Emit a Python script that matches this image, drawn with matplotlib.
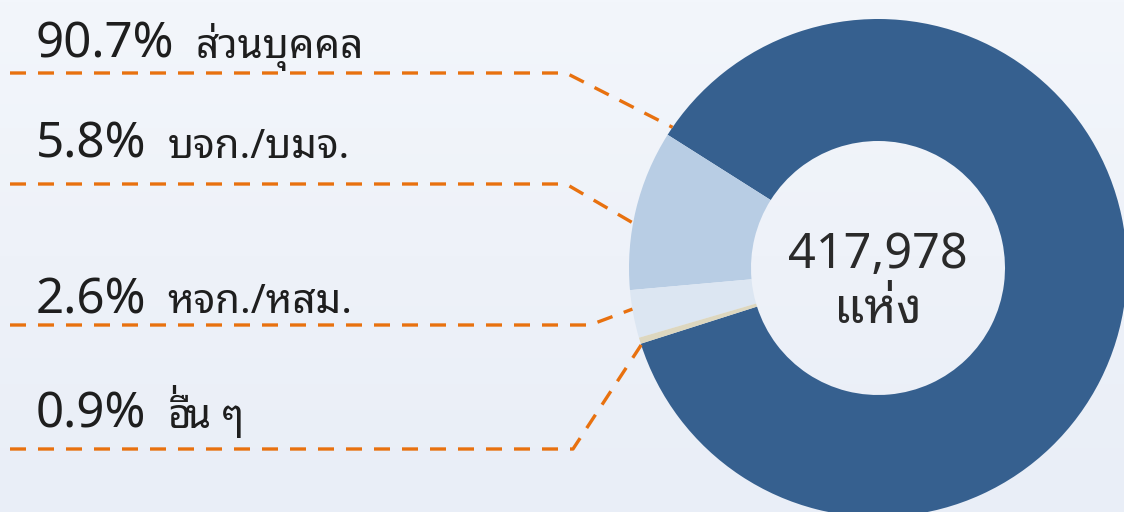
import numpy as np
import matplotlib
matplotlib.use("Agg")
import matplotlib.pyplot as plt
from matplotlib.colors import LinearSegmentedColormap

# ---- data ----
pct_labels = ["90.7%", "5.8%", "2.6%", "0.9%"]
names = ["ส่วนบุคคล", "บจก./บมจ.", "หจก./หสม.", "อื่น ๆ"]
# slice sizes as drawn in the picture
shares = [86.1, 10.4, 3.1, 0.4]
colors = ["#36608f", "#b8cde4", "#dce6f2", "#ddd7bf"]
total_text = "417,978"
unit_text = "แห่ง"

# leader lines: label row y (px from top), elbow x, angle where it meets the ring
line_y = [73, 184, 325, 449]
elbow_x = [566, 566, 590, 573]
anchor_deg = [145.6, 169.6, 189.5, 198.0]
text_base = [58, 158, 313, 428]

W, H = 1124, 512
cx, cy, R, r_in = 878, H - 268, 249, 127
FONT = ["Noto Sans Thai Looped", "Noto Sans", "DejaVu Sans"]
UPPER = "ัิีึื็"
TONES = "่้๊๋"

fig = plt.figure(figsize=(W / 100, H / 100), dpi=100)
ax = fig.add_axes([0, 0, 1, 1])

# background gradient
grad = LinearSegmentedColormap.from_list("bg", ["#f3f6fb", "#e9eef7"])
ax.imshow(np.linspace(0, 1, 256).reshape(-1, 1), cmap=grad, aspect="auto",
          extent=[0, W, 0, H], zorder=0)

ax.pie(shares, colors=colors, startangle=197.7, counterclock=True,
       center=(cx, cy), radius=R, frame=True,
       wedgeprops=dict(width=R - r_in, linewidth=0))

# leader lines
for ly, ex, ang in zip(line_y, elbow_x, anchor_deg):
    a = np.deg2rad(ang)
    px = [10, ex, cx + R * np.cos(a)]
    py = [H - ly, H - ly, cy + R * np.sin(a)]
    ax.plot(px, py, color="#e8710f", lw=2.4, dashes=(4.8, 3.6),
            solid_capstyle="butt", dash_capstyle="butt", zorder=3)

fig.canvas.draw()
rend = fig.canvas.get_renderer()


def thai_text(x, y, s, size, color):
    # no shaping in matplotlib: a tone mark over an upper vowel is drawn by hand
    for i in range(len(s) - 1):
        if s[i] in UPPER and s[i + 1] in TONES:
            t1 = ax.text(x, y, s[:i + 1], fontsize=size, family=FONT, color=color,
                         va="baseline", ha="left", zorder=4)
            bb = t1.get_window_extent(renderer=rend)
            em = size * 100 / 72
            ax.text(bb.x1 - 0.14 * em, y + 0.2 * em, s[i + 1], fontsize=size,
                    family=FONT, color=color, va="baseline", ha="center", zorder=4)
            thai_text(bb.x1 + 1, y, s[i + 2:], size, color)
            return
    ax.text(x, y, s, fontsize=size, family=FONT, color=color,
            va="baseline", ha="left", zorder=4)


# labels
for pl, nm, tb in zip(pct_labels, names, text_base):
    t = ax.text(36, H - tb, pl, fontsize=35.5, family=FONT, color="#1e1e1e",
                va="baseline", ha="left", zorder=4)
    bb = t.get_window_extent(renderer=rend)
    thai_text(bb.x1 + 19, H - tb, nm, 29, "#1e1e1e")

ax.text(cx, H - 268, total_text, fontsize=35, family=FONT, color="#2a2a2a",
        ha="center", va="baseline")
ax.text(cx, H - 323, unit_text, fontsize=35, family=FONT, color="#2a2a2a",
        ha="center", va="baseline")

ax.set_xlim(0, W)
ax.set_ylim(0, H)
ax.set_aspect("auto")
ax.axis("off")

fig.savefig("out.png", dpi=100)
